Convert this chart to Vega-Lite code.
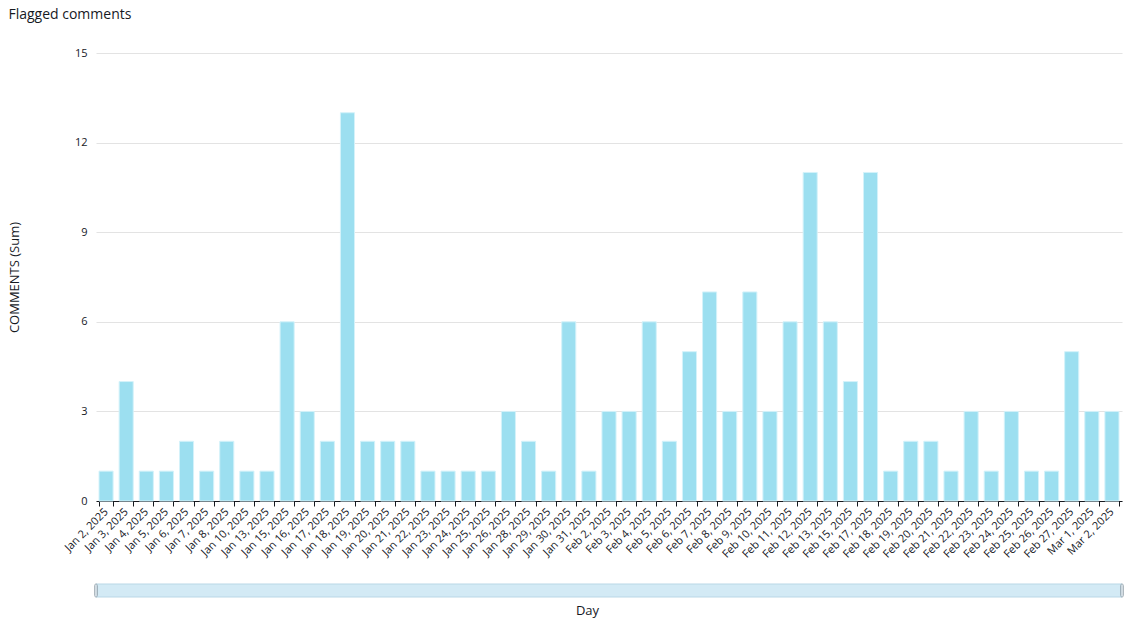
{
  "$schema": "https://vega.github.io/schema/vega-lite/v6.json",
  "padding": {"left": 8, "top": 8, "right": 10, "bottom": 5},
  "title": {"text": "Flagged comments", "anchor": "start", "frame": "bounds", "fontSize": 14, "fontWeight": "normal", "font": "Open Sans", "color": "#16191f", "offset": 25},
  "config": {
    "font": "Open Sans",
    "view": {"stroke": null},
    "axis": {"labelColor": "#16191f", "titleColor": "#16191f", "titleFontWeight": "normal", "titleFontSize": 13, "labelFontSize": 11}
  },
  "datasets": {
    "days": [
      {"day": "Jan 2, 2025", "comments": 1},
      {"day": "Jan 3, 2025", "comments": 4},
      {"day": "Jan 4, 2025", "comments": 1},
      {"day": "Jan 5, 2025", "comments": 1},
      {"day": "Jan 6, 2025", "comments": 2},
      {"day": "Jan 7, 2025", "comments": 1},
      {"day": "Jan 8, 2025", "comments": 2},
      {"day": "Jan 10, 2025", "comments": 1},
      {"day": "Jan 13, 2025", "comments": 1},
      {"day": "Jan 15, 2025", "comments": 6},
      {"day": "Jan 16, 2025", "comments": 3},
      {"day": "Jan 17, 2025", "comments": 2},
      {"day": "Jan 18, 2025", "comments": 13},
      {"day": "Jan 19, 2025", "comments": 2},
      {"day": "Jan 20, 2025", "comments": 2},
      {"day": "Jan 21, 2025", "comments": 2},
      {"day": "Jan 22, 2025", "comments": 1},
      {"day": "Jan 23, 2025", "comments": 1},
      {"day": "Jan 24, 2025", "comments": 1},
      {"day": "Jan 25, 2025", "comments": 1},
      {"day": "Jan 26, 2025", "comments": 3},
      {"day": "Jan 28, 2025", "comments": 2},
      {"day": "Jan 29, 2025", "comments": 1},
      {"day": "Jan 30, 2025", "comments": 6},
      {"day": "Jan 31, 2025", "comments": 1},
      {"day": "Feb 2, 2025", "comments": 3},
      {"day": "Feb 3, 2025", "comments": 3},
      {"day": "Feb 4, 2025", "comments": 6},
      {"day": "Feb 5, 2025", "comments": 2},
      {"day": "Feb 6, 2025", "comments": 5},
      {"day": "Feb 7, 2025", "comments": 7},
      {"day": "Feb 8, 2025", "comments": 3},
      {"day": "Feb 9, 2025", "comments": 7},
      {"day": "Feb 10, 2025", "comments": 3},
      {"day": "Feb 11, 2025", "comments": 6},
      {"day": "Feb 12, 2025", "comments": 11},
      {"day": "Feb 13, 2025", "comments": 6},
      {"day": "Feb 15, 2025", "comments": 4},
      {"day": "Feb 17, 2025", "comments": 11},
      {"day": "Feb 18, 2025", "comments": 1},
      {"day": "Feb 19, 2025", "comments": 2},
      {"day": "Feb 20, 2025", "comments": 2},
      {"day": "Feb 21, 2025", "comments": 1},
      {"day": "Feb 22, 2025", "comments": 3},
      {"day": "Feb 23, 2025", "comments": 1},
      {"day": "Feb 24, 2025", "comments": 3},
      {"day": "Feb 25, 2025", "comments": 1},
      {"day": "Feb 26, 2025", "comments": 1},
      {"day": "Feb 27, 2025", "comments": 5},
      {"day": "Mar 1, 2025", "comments": 3},
      {"day": "Mar 2, 2025", "comments": 3}
    ],
    "range": [{"from": 0, "to": 1}],
    "handles": [{"pos": 0}, {"pos": 1}]
  },
  "vconcat": [
    {
      "width": 1026,
      "height": 448,
      "data": {"name": "days"},
      "mark": {"type": "bar", "color": "#9cdff0", "stroke": "#d4f2fa", "strokeWidth": 1},
      "encoding": {
        "x": {
          "field": "day", "type": "ordinal", "sort": null,
          "scale": {"paddingInner": 0.3, "paddingOuter": 0.15},
          "axis": {"title": null, "labelAngle": -45, "labelAlign": "right", "labelBaseline": "middle", "tickBand": "extent", "grid": false, "domainColor": "#16191f", "tickColor": "#16191f", "tickSize": 5, "labelPadding": 4}
        },
        "y": {
          "field": "comments", "type": "quantitative",
          "scale": {"domain": [0, 15]},
          "axis": {"title": "COMMENTS (Sum)", "values": [0, 3, 6, 9, 12, 15], "domain": false, "ticks": false, "labelPadding": 9, "labelFontSize": 11, "gridColor": "#e3e3e3", "titlePadding": 53}
        }
      }
    },
    {
      "width": 1026,
      "height": 13,
      "layer": [
        {
          "data": {"name": "range"},
          "mark": {"type": "rect", "fill": "#d3eaf5", "stroke": "#b9d7e6", "strokeWidth": 1},
          "encoding": {
            "x": {"field": "from", "type": "quantitative", "scale": {"domain": [0, 1], "nice": false}, "axis": {"title": "Day", "labels": false, "ticks": false, "domain": false, "grid": false, "titlePadding": 7, "titleFontSize": 13, "titleX": 491}},
            "x2": {"field": "to"}
          }
        },
        {
          "data": {"name": "handles"},
          "mark": {"type": "tick", "orient": "vertical", "thickness": 3, "size": 13, "color": "#d0d7dc", "stroke": "#8c9ba5", "strokeWidth": 1, "cornerRadius": 2},
          "encoding": {
            "x": {"field": "pos", "type": "quantitative"}
          }
        }
      ]
    }
  ],
  "spacing": 23
}
